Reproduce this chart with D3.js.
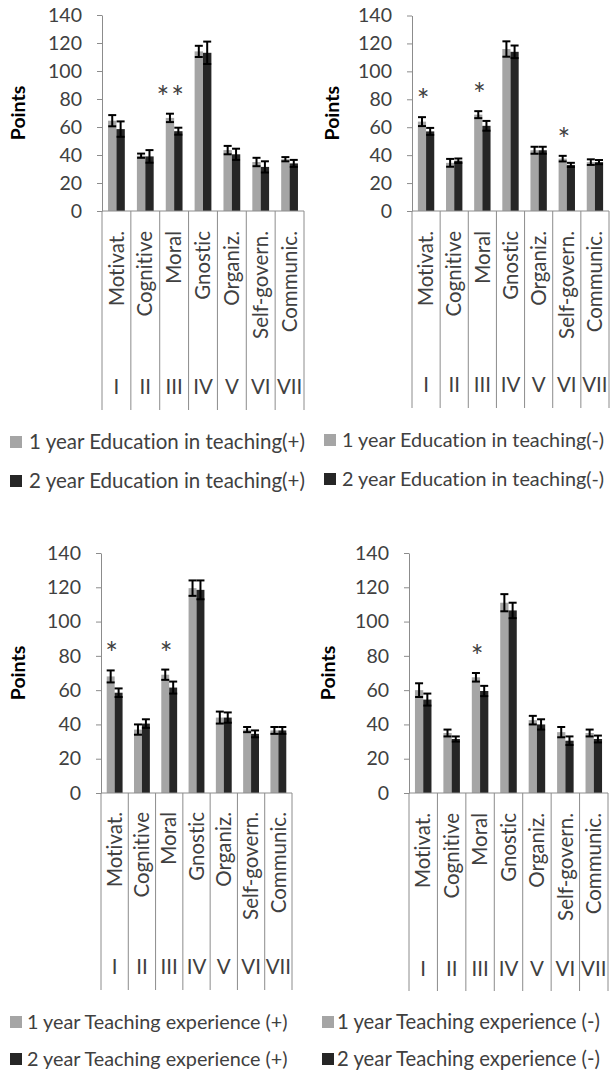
<!DOCTYPE html>
<html>
<head>
<meta charset="utf-8">
<script src="https://cdn.jsdelivr.net/npm/d3@7"></script>
<style>
  html, body { margin: 0; padding: 0; background: #fff; }
  svg { display: block; font-family: Lato, "Open Sans", sans-serif; }
  svg text { font-variant-ligatures: none; font-feature-settings: "liga" 0, "clig" 0; }
</style>
</head>
<body>
<svg id="chart" width="610" height="1077"></svg>
<script>
// ---- data ----
const categories = ["Motivat.", "Cognitive", "Moral", "Gnostic", "Organiz.", "Self-govern.", "Communic."];
const romanNumerals = ["I", "II", "III", "IV", "V", "VI", "VII"];
const yTicks = [0, 20, 40, 60, 80, 100, 120, 140];

// Education in teaching (+)
const eduPlusYear1 = [64.5, 39.5, 66.5, 114, 43.5, 35, 37];
const eduPlusYear1Err = [4, 1.5, 3, 4, 3, 3, 1.5];
const eduPlusYear2 = [58.5, 39, 57, 113, 40.5, 31.5, 34];
const eduPlusYear2Err = [5.5, 4.5, 2.5, 8, 4, 4, 2.5];
const eduPlusSig = ["", "", "**", "", "", "", ""];
const eduPlusLegend = ["1 year Education in teaching(+)", "2 year Education in teaching(+)"];

// Education in teaching (-)
const eduMinusYear1 = [64, 34.5, 69, 116, 43.5, 37.5, 35];
const eduMinusYear1Err = [3.2, 2.8, 2.5, 5.5, 2.5, 2, 2];
const eduMinusYear2 = [57, 36, 61, 114, 43.5, 33, 35];
const eduMinusYear2Err = [2.5, 1.6, 3.5, 4.5, 2.5, 1.5, 1.5];
const eduMinusSig = ["*", "", "*", "", "", "*", ""];
const eduMinusLegend = ["1 year Education in teaching(-)", "2 year Education in teaching(-)"];

// Teaching experience (+)
const expPlusYear1 = [68, 37, 69, 119.5, 44, 37, 36.5];
const expPlusYear1Err = [3.5, 3, 3, 4.5, 3.5, 1.5, 2];
const expPlusYear2 = [58.5, 40.5, 61.5, 118.5, 44, 34.5, 36.5];
const expPlusYear2Err = [2.5, 2.5, 3.5, 5.5, 3, 2, 2];
const expPlusSig = ["*", "", "*", "", "", "", ""];
const expPlusLegend = ["1 year Teaching experience (+)", "2 year Teaching experience (+)"];

// Teaching experience (-)
const expMinusYear1 = [60, 35, 67.5, 111, 42.5, 35.5, 35];
const expMinusYear1Err = [4, 2, 2.5, 5, 2.5, 3, 2];
const expMinusYear2 = [54.5, 31.5, 59.5, 106.5, 40, 30.5, 31.5];
const expMinusYear2Err = [3.5, 1.5, 3, 4.5, 3, 2.5, 2];
const expMinusSig = ["", "", "*", "", "", "", ""];
const expMinusLegend = ["1 year Teaching experience (-)", "2 year Teaching experience (-)"];

// ---- styling ----
const LIGHT = "#a5a5a5";
const DARK = "#262626";
const TEXT = "#404040";
const AXIS = "#8c8c8c";
const TICK_SIZE = 19.5;
const LABEL_SIZE = 20.5;

const svg = d3.select("#chart");

function drawPanel(p) {
  const g = svg.append("g");
  const x = d3.scaleBand().domain(categories).range([p.left, p.right]);
  const y = d3.scaleLinear().domain([0, 140]).range([p.bottom, p.top]);
  const sub = d3.scaleBand().domain([0, 1]).range([0, x.bandwidth()]).paddingOuter(0.72);

  const series = [
    { values: p.year1, errs: p.year1Err, color: LIGHT },
    { values: p.year2, errs: p.year2Err, color: DARK }
  ];

  // bars
  series.forEach((s, si) => {
    g.append("g").selectAll("rect")
      .data(s.values)
      .join("rect")
      .attr("x", (d, i) => x(categories[i]) + sub(si))
      .attr("width", sub.bandwidth())
      .attr("y", d => y(d))
      .attr("height", d => y(0) - y(d))
      .attr("fill", s.color);
  });

  // error bars
  series.forEach((s, si) => {
    const eg = g.append("g").attr("stroke", "#000").attr("stroke-width", 2);
    s.values.forEach((v, i) => {
      const cx = x(categories[i]) + sub(si) + sub.bandwidth() / 2;
      const hi = y(v + s.errs[i]);
      const lo = y(v - s.errs[i]);
      const cap = 4;
      eg.append("line").attr("x1", cx).attr("x2", cx).attr("y1", hi).attr("y2", lo);
      eg.append("line").attr("x1", cx - cap).attr("x2", cx + cap).attr("y1", hi).attr("y2", hi);
      eg.append("line").attr("x1", cx - cap).attr("x2", cx + cap).attr("y1", lo).attr("y2", lo);
    });
  });

  // significance marks above each flagged category
  p.sig.forEach((mark, i) => {
    if (!mark) return;
    const top = Math.max(p.year1[i] + p.year1Err[i], p.year2[i] + p.year2Err[i]);
    g.append("text")
      .attr("x", x(categories[i]) + x.bandwidth() / 2 - 3)
      .attr("y", y(top) - 23 + 17)
      .attr("text-anchor", "middle")
      .attr("font-size", 30)
      .attr("letter-spacing", mark.length > 1 ? 2 : 0)
      .attr("fill", TEXT)
      .text(mark);
  });

  // y axis
  const yAxis = d3.axisLeft(y).tickValues(yTicks).tickSize(5).tickSizeOuter(0).tickPadding(15);
  const ya = g.append("g").attr("transform", `translate(${p.left},0)`).call(yAxis);
  ya.select(".domain").attr("stroke", AXIS);
  ya.selectAll(".tick line").attr("stroke", AXIS);
  ya.selectAll(".tick text")
    .attr("font-size", TICK_SIZE)
    .attr("font-family", "Lato, sans-serif")
    .attr("fill", TEXT);

  // category axis: baseline and separators running down through the label box
  g.append("line")
    .attr("x1", p.left).attr("x2", p.right)
    .attr("y1", y(0)).attr("y2", y(0))
    .attr("stroke", AXIS);
  const edges = categories.map(c => x(c)).concat([p.right]);
  g.append("g").selectAll("line")
    .data(edges)
    .join("line")
    .attr("x1", d => d).attr("x2", d => d)
    .attr("y1", y(0)).attr("y2", p.boxBottom)
    .attr("stroke", AXIS);

  // category names (rotated)
  g.append("g").selectAll("text")
    .data(categories)
    .join("text")
    .attr("transform", d => `translate(${x(d) + x.bandwidth() / 2},${p.labelTop}) rotate(-90)`)
    .attr("text-anchor", "end")
    .attr("dy", "0.35em")
    .attr("font-size", LABEL_SIZE)
    .attr("fill", TEXT)
    .text(d => d);

  // roman numerals
  g.append("g").selectAll("text")
    .data(romanNumerals)
    .join("text")
    .attr("x", (d, i) => x(categories[i]) + x.bandwidth() / 2)
    .attr("y", p.roman)
    .attr("dy", "0.35em")
    .attr("text-anchor", "middle")
    .attr("font-size", LABEL_SIZE)
    .attr("fill", TEXT)
    .text(d => d);

  // y-axis title
  g.append("text")
    .attr("transform", `translate(${p.titleX},${(p.top + p.bottom) / 2}) rotate(-90)`)
    .attr("text-anchor", "middle")
    .attr("dy", "0.35em")
    .attr("font-size", TICK_SIZE)
    .attr("font-weight", "bold")
    .attr("fill", "#000")
    .text("Points");

  // legend
  p.legend.forEach((label, i) => {
    const cy = p.legendY[i];
    g.append("rect")
      .attr("x", p.legendX).attr("y", cy - 6)
      .attr("width", 12).attr("height", 12)
      .attr("fill", i === 0 ? LIGHT : DARK);
    g.append("text")
      .attr("x", p.legendX + p.legendGap).attr("y", cy)
      .attr("dy", "0.35em")
      .attr("font-size", p.legendSize)
      .attr("fill", TEXT)
      .text(label);
  });
}

drawPanel({
  left: 102, right: 304, top: 15, bottom: 211, boxBottom: 410, labelTop: 231, roman: 387, titleX: 18,
  year1: eduPlusYear1, year1Err: eduPlusYear1Err, year2: eduPlusYear2, year2Err: eduPlusYear2Err,
  sig: eduPlusSig, legend: eduPlusLegend, legendX: 10, legendGap: 19, legendSize: 20.5, legendY: [442, 481]
});
drawPanel({
  left: 412, right: 609, top: 15.5, bottom: 211, boxBottom: 408, labelTop: 231, roman: 385, titleX: 332,
  year1: eduMinusYear1, year1Err: eduMinusYear1Err, year2: eduMinusYear2, year2Err: eduMinusYear2Err,
  sig: eduMinusSig, legend: eduMinusLegend, legendX: 324, legendGap: 18, legendSize: 19.8, legendY: [440, 479]
});
drawPanel({
  left: 101, right: 292, top: 553, bottom: 793, boxBottom: 990, labelTop: 812, roman: 967, titleX: 18,
  year1: expPlusYear1, year1Err: expPlusYear1Err, year2: expPlusYear2, year2Err: expPlusYear2Err,
  sig: expPlusSig, legend: expPlusLegend, legendX: 10, legendGap: 17, legendSize: 19.8, legendY: [1022, 1059]
});
drawPanel({
  left: 409, right: 608, top: 553, bottom: 793, boxBottom: 991, labelTop: 813, roman: 969, titleX: 328,
  year1: expMinusYear1, year1Err: expMinusYear1Err, year2: expMinusYear2, year2Err: expMinusYear2Err,
  sig: expMinusSig, legend: expMinusLegend, legendX: 322, legendGap: 15, legendSize: 20.3, legendY: [1022, 1059]
});
</script>
</body>
</html>
